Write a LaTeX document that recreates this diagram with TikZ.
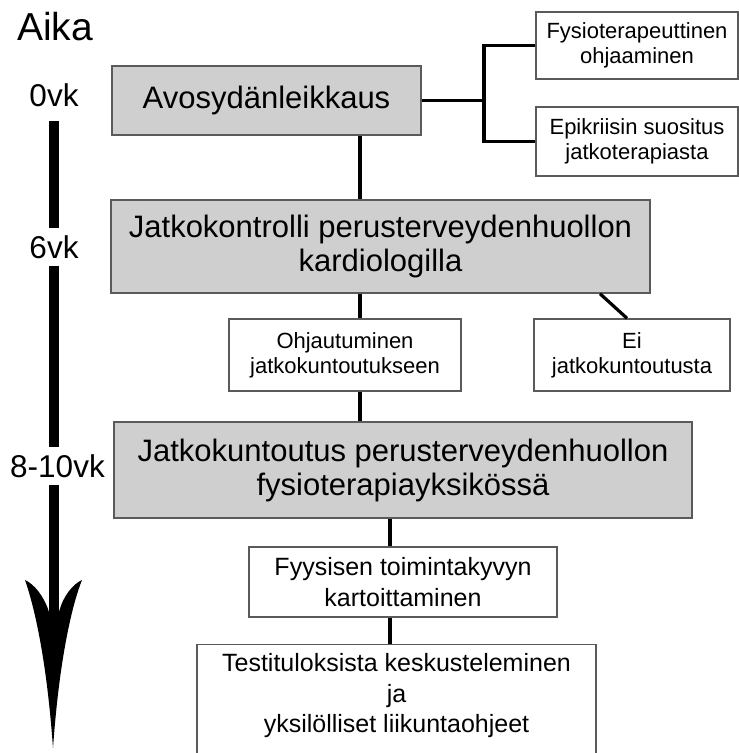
\documentclass[tikz,border=0pt]{standalone}
\usepackage{fontspec}
\setmainfont{Liberation Sans}
\definecolor{boxfill}{RGB}{207,207,207}
\definecolor{boxline}{RGB}{90,90,90}
\begin{document}
\begin{tikzpicture}[x=1pt,y=-1pt,
		graybox/.style={draw=boxline,line width=1.4pt,fill=boxfill,align=center,inner sep=0pt,font=\fontsize{31}{34}\selectfont},
		notebox/.style={draw=boxline,line width=1.4pt,fill=white,align=center,inner sep=0pt,font=\fontsize{22}{25}\selectfont},
		taskbox/.style={draw=boxline,line width=1.4pt,fill=white,align=center,inner sep=0pt,font=\fontsize{25}{30.5}\selectfont},
		link/.style={line width=3.2pt},
		timelbl/.style={anchor=base,inner xsep=0pt,inner ysep=7pt,font=\fontsize{31.5}{34}\selectfont},
		timebar/.style={line width=10pt}]
			\useasboundingbox (0,0) rectangle (739,753);
			\clip (0,0) rectangle (739,753);
			\coordinate (trunk) at (360,0);
			\coordinate (branch) at (390,0);
			\coordinate (fork) at (484,100.5);
			\coordinate (tip) at (53,748);
			\node[graybox,minimum width=309,minimum height=69] (surgery) at (266.5,100.5) {Avosydänleikkaus};
			\node[notebox,minimum width=202,minimum height=67] (physio) at (637,45.5) {Fysioterapeuttinen\\ohjaaminen};
			\node[notebox,minimum width=202,minimum height=69] (epicrisis) at (637,141.5) {Epikriisin suositus\\jatkoterapiasta};
			\node[graybox,minimum width=539,minimum height=93] (control) at (380.5,246.5) {Jatkokontrolli perusterveydenhuollon\\kardiologilla};
			\node[notebox,minimum width=232,minimum height=72] (referral) at (345,355) {Ohjautuminen\\jatkokuntoutukseen};
			\node[notebox,minimum width=196,minimum height=72] (norehab) at (632,355) {Ei\\jatkokuntoutusta};
			\node[graybox,minimum width=578,minimum height=96] (rehab) at (403,470) {Jatkokuntoutus perusterveydenhuollon\\fysioterapiayksikössä};
			\node[taskbox,minimum width=308,minimum height=70] (assess) at (403,582) {Fyysisen toimintakyvyn\\kartoittaminen};
			\node[taskbox,minimum width=399,anchor=north,inner ysep=9pt,text depth=45pt] (results) at (396.5,644) {Testituloksista keskusteleminen\\ja\\yksilölliset liikuntaohjeet};
			\draw[link] (surgery.south -| trunk) -- (control.north -| trunk);
			\draw[link] (control.south -| trunk) -- (referral.north -| trunk);
			\draw[link] (referral.south -| trunk) -- (rehab.north -| trunk);
			\draw[link] (rehab.south -| branch) -- (assess.north -| branch);
			\draw[link] (assess.south -| branch) -- (results.north -| branch);
			\draw[link] (surgery.east) -- (fork);
			\draw[link] (physio.west) -| (fork) |- (epicrisis.west);
			\draw[link] ([xshift=219.5pt]control.south) -- ([xshift=-5pt]norehab.north);
			\node[timelbl,anchor=base west,font=\fontsize{39}{42}\selectfont] (aika) at (17,40) {Aika};
			\node[timelbl] (t0) at (54,106) {0vk};
			\node[timelbl] (t6) at (54,258) {6vk};
			\node[timelbl] (t8) at (57.5,477) {8-10vk};
			\draw[timebar,shorten <=7pt] (t0.south) -- (t6.north);
			\draw[timebar] (t6.south) -- (t8.north -| t6);
			\draw[timebar] (t8.south -| t6) -- (54,614);
			\fill (49,612) .. controls (44,596) and (34,584) .. (25,580)
				.. controls (32,600) and (46,650) .. (tip)
				.. controls (60,650) and (74,600) .. (82,580)
				.. controls (73,584) and (63,596) .. (59,612) -- cycle;
		\end{tikzpicture}
\end{document}
